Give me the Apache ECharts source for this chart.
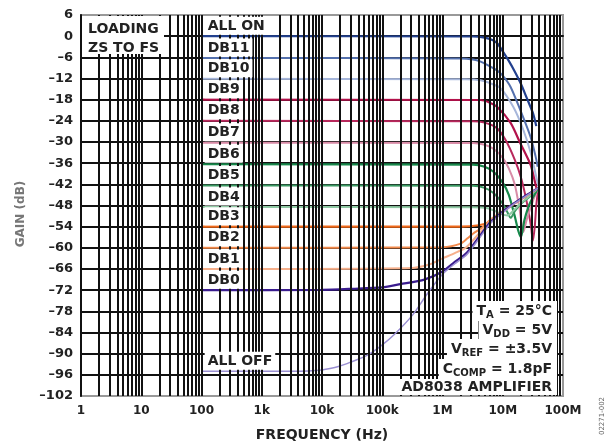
<!DOCTYPE html>
<html><head><meta charset="utf-8">
<script src="https://cdn.jsdelivr.net/npm/echarts@6/dist/echarts.min.js"></script>
<style>html,body{margin:0;padding:0;background:#fff}#c{width:613px;height:445px}</style>
</head><body><div id="c"></div>
<script>
// ---------- axis ticks ----------
const xTickValues = [1, 10, 100, 1e3, 1e4, 1e5, 1e6, 1e7, 1e8];
const xTickLabels = ['1', '10', '100', '1k', '10k', '100k', '1M', '10M', '100M'];
const yMin = -102, yMax = 6, yStep = 6;

// ---------- series data (frequency in Hz, gain in dB) ----------
const allOnHz  = [100, 3.2e6, 5e6, 6.3e6, 8e6, 1e7, 1.26e7, 1.58e7, 2e7, 2.5e7, 3.2e7, 3.6e7];
const allOnDb  = [0, -0.1, -0.4, -0.9, -1.9, -4.3, -7, -10, -13.5, -17.5, -22, -25.5];
const db11Hz   = [100, 2e6, 3.2e6, 4.3e6, 5.6e6, 8e6, 1e7, 1.35e7, 1.95e7, 2.9e7, 3.5e7, 3.8e7];
const db11Db   = [-6.2, -6.3, -6.6, -7.2, -8.2, -9.7, -11.2, -14.4, -20.9, -28.6, -34, -37];
const db10Hz   = [100, 2.5e6, 4.3e6, 6.3e6, 9.1e6, 1.5e7, 2.2e7, 2.9e7, 3.5e7, 3.9e7];
const db10Db   = [-12.1, -12.2, -12.5, -13.4, -14.7, -20.1, -26.6, -33, -39, -42.5];
const db9Hz    = [100, 4.3e6, 6e6, 8.1e6, 1.35e7, 1.95e7, 2.9e7, 3.5e7, 3.9e7];
const db9Db    = [-18, -18.1, -18.8, -20.1, -24.6, -30.3, -36.5, -42, -45];
const db8Hz    = [100, 3.2e6, 5e6, 7.9e6, 1.12e7, 1.58e7, 2e7, 2.5e7, 2.95e7, 3.16e7, 3.4e7, 3.6e7, 3.9e7];
const db8Db    = [-24, -24.1, -24.5, -26, -29.5, -35, -40, -47, -54, -58, -54, -48, -43];
const db7Hz    = [100, 3.2e6, 5e6, 7.1e6, 1e7, 1.26e7, 1.58e7, 1.9e7, 2.2e7, 2.5e7, 3.2e7, 3.9e7];
const db7Db    = [-30.2, -30.3, -30.8, -32, -34.5, -37.5, -42, -49, -55.5, -52, -46.5, -43];
const db6Hz    = [100, 3.2e6, 5e6, 7.1e6, 1e7, 1.26e7, 1.58e7, 1.8e7, 2e7, 2.3e7, 2.8e7, 3.9e7];
const db6Db    = [-36.3, -36.4, -37, -38.5, -41.5, -45, -51, -55, -57, -52, -47.5, -43];
const db5Hz    = [100, 3.2e6, 5e6, 7.1e6, 1e7, 1.2e7, 1.35e7, 1.6e7, 2e7, 2.8e7, 3.9e7];
const db5Db    = [-42.3, -42.4, -43, -44.5, -47.5, -50, -51.5, -49.5, -47.5, -45.5, -43];
const db4Hz    = [100, 3.2e6, 5.6e6, 8e6, 1e7, 1.2e7, 1.5e7, 2e7, 2.8e7, 3.9e7];
const db4Db    = [-48.4, -48.5, -48.8, -49.8, -50.6, -50.8, -49.5, -47.3, -45.3, -43];
const db3Hz    = [100, 2e6, 4e6, 6.3e6, 1e7, 1.6e7, 2.5e7, 3.9e7];
const db3Db    = [-54, -54, -53.6, -52.5, -49.8, -47.3, -45.2, -43];
const db2Hz    = [100, 1e6, 2e6, 2.6e6, 3.2e6, 4.5e6, 6.3e6, 1e7, 1.6e7, 2.5e7, 3.9e7];
const db2Db    = [-60, -59.8, -58.8, -57.3, -56, -54.3, -52, -49.6, -47.3, -45.2, -43];
const db1Hz    = [100, 3.2e5, 6.3e5, 1e6, 1.6e6, 2.5e6, 4e6, 6.3e6, 1e7, 1.6e7, 2.5e7, 3.9e7];
const db1Db    = [-66, -65.7, -64.6, -63, -61.5, -59.8, -56, -52.3, -49.7, -47.3, -45.2, -43];
const db0Hz    = [100, 1e4, 3.2e4, 1e5, 2e5, 5e5, 1e6, 1.6e6, 2.5e6, 4e6, 6.3e6, 1e7, 1.6e7, 2.5e7, 3.9e7];
const db0Db    = [-72, -71.9, -71.6, -71.2, -70.3, -69, -66.7, -64, -61.5, -57, -52.6, -49.7, -47.2, -45, -43];
const allOffHz = [100, 3.2e3, 1e4, 2e4, 3.2e4, 5.6e4, 1e5, 1.6e5, 3.2e5, 5.6e5, 1e6, 1.6e6, 2.5e6, 4e6, 6.3e6, 1e7, 1.6e7, 2.5e7, 3.9e7];
const allOffDb = [-95, -95, -94.6, -93.5, -92.2, -90.5, -87.5, -84.5, -79, -73, -67.5, -64.5, -62, -57.5, -53, -50, -47.3, -45.2, -43];

const curveNames = ['ALL ON', 'DB11', 'DB10', 'DB9', 'DB8', 'DB7', 'DB6', 'DB5', 'DB4', 'DB3', 'DB2', 'DB1', 'DB0', 'ALL OFF'];
const curveHz = [allOnHz, db11Hz, db10Hz, db9Hz, db8Hz, db7Hz, db6Hz, db5Hz, db4Hz, db3Hz, db2Hz, db1Hz, db0Hz, allOffHz];
const curveDb = [allOnDb, db11Db, db10Db, db9Db, db8Db, db7Db, db6Db, db5Db, db4Db, db3Db, db2Db, db1Db, db0Db, allOffDb];
const curveColors = ['#22408e', '#5470ad', '#a6b6da', '#b3124b', '#b8285c', '#d98ba7', '#17884b', '#3a9862', '#8fc9a4', '#f06a1c', '#f28a4c', '#f6b08c', '#3a1c8e', '#9a8fd2'];
const curveWidths = [2.2, 2, 2, 2.2, 2, 2, 2.2, 2, 2, 2.2, 2, 2, 2.2, 1.5];
const labelFreq = 115; // Hz, where the curve labels start

const FONT = 'DejaVu Sans';

// minor vertical grid lines (2..9 x each decade) and decade lines
const vLines = [];
for (let d = 0; d < 8; d++) {
  for (let m = 2; m <= 10; m++) {
    const v = m * Math.pow(10, d);
    if (v < 1e8) vLines.push({ xAxis: v });
  }
}

const chart = echarts.init(document.getElementById('c'), null, { renderer: 'canvas' });

const series = [{
  type: 'line', name: 'grid', data: [], z: 1, silent: true,
  markLine: {
    silent: true, symbol: ['none', 'none'], animation: false,
    label: { show: false },
    lineStyle: { color: '#111', width: 2, type: 'solid' },
    emphasis: { disabled: true },
    data: vLines
  }
}];

curveNames.forEach((name, i) => {
  series.push({
    type: 'line', name,
    data: curveHz[i].map((f, k) => [f, curveDb[i][k]]),
    showSymbol: false, smooth: 0.25, z: 3,
    lineStyle: { color: curveColors[i], width: curveWidths[i] },
    itemStyle: { color: curveColors[i] },
    animation: false,
    markPoint: {
      symbol: 'rect', symbolSize: 1, silent: true, animation: false,
      itemStyle: { color: 'rgba(0,0,0,0)' },
      data: [{ coord: [labelFreq, curveDb[i][0]] }],
      label: {
        show: true, formatter: name, position: [0, -1], align: 'left', verticalAlign: 'bottom',
        fontFamily: FONT, fontWeight: 'bold', fontSize: 14, color: '#222',
        backgroundColor: '#fff', padding: [2, 3, 1, 3], lineHeight: 15
      }
    }
  });
});

const annLines = [
  '{m|T}{s|A}{m| = 25°C}',
  '{m|V}{s|DD}{m| = 5V}',
  '{m|V}{s|REF}{m| = ±3.5V}',
  '{m|C}{s|COMP}{m| = 1.8pF}',
  '{m|AD8038 AMPLIFIER}'
];
const annY = [311, 330, 349, 369, 387];

const graphics = [
  { type: 'rect', shape: { x: 82, y: 16, width: 82, height: 38 }, style: { fill: '#fff' }, z: 50 },
  { type: 'text', x: 88, y: 20, z: 51, style: { text: 'LOADING\nZS TO FS', font: 'bold 14px "DejaVu Sans"', fill: '#222', lineHeight: 19, verticalAlign: 'top' } },
  { type: 'text', x: 21, y: 214, rotation: Math.PI / 2, z: 51, style: { text: 'GAIN (dB)', font: 'bold 12px "DejaVu Sans"', fill: '#777', align: 'center', verticalAlign: 'middle' } },
  { type: 'text', x: 322, y: 435, z: 51, style: { text: 'FREQUENCY (Hz)', font: 'bold 14px "DejaVu Sans"', fill: '#222', align: 'center', verticalAlign: 'middle' } },
  { type: 'text', x: 602, y: 416, rotation: Math.PI / 2, z: 51, style: { text: '02271-002', font: '7px "DejaVu Sans"', fill: '#666', align: 'center', verticalAlign: 'middle' } }
];
annLines.forEach((t, i) => {
  graphics.push({
    type: 'text', x: 557, y: annY[i], z: 60,
    style: {
      text: t, align: 'right', verticalAlign: 'middle', fill: '#222',
      backgroundColor: '#fff', padding: [1, 5, 1, 4],
      rich: {
        m: { fontFamily: FONT, fontWeight: 'bold', fontSize: 14, fill: '#222', color: '#222' },
        s: { fontFamily: FONT, fontWeight: 'bold', fontSize: 10, fill: '#222', color: '#222', padding: [8, 0, 0, 0] }
      }
    }
  });
});

chart.setOption({
  animation: false,
  backgroundColor: '#fff',
  grid: { left: 81, right: 50, top: 15, bottom: 49, show: true, borderColor: '#999', borderWidth: 2, backgroundColor: '#fff' },
  xAxis: {
    type: 'log', logBase: 10, min: 1, max: 1e8,
    axisLine: { show: true, lineStyle: { color: '#111', width: 2 } },
    axisTick: { show: false },
    splitLine: { show: true, showMinLine: false, showMaxLine: false, lineStyle: { color: '#111', width: 2 } },
    axisLabel: {
      margin: 9, fontFamily: FONT, fontWeight: 'bold', fontSize: 12, color: '#222',
      formatter: v => { const k = xTickValues.findIndex(t => Math.abs(t - v) / t < 1e-6); return k >= 0 ? xTickLabels[k] : ''; }
    }
  },
  yAxis: {
    type: 'value', min: yMin, max: yMax, interval: yStep,
    axisLine: { show: true, lineStyle: { color: '#111', width: 2 } },
    axisTick: { show: false },
    splitLine: { show: true, showMinLine: false, showMaxLine: false, lineStyle: { color: '#111', width: 2 } },
    axisLabel: {
      margin: 8, fontFamily: FONT, fontWeight: 'bold', fontSize: 13, color: '#222',
      formatter: v => v < 0 ? '\u2013' + Math.abs(v) : String(v)
    }
  },
  graphic: graphics,
  series
});
</script>
</body></html>
